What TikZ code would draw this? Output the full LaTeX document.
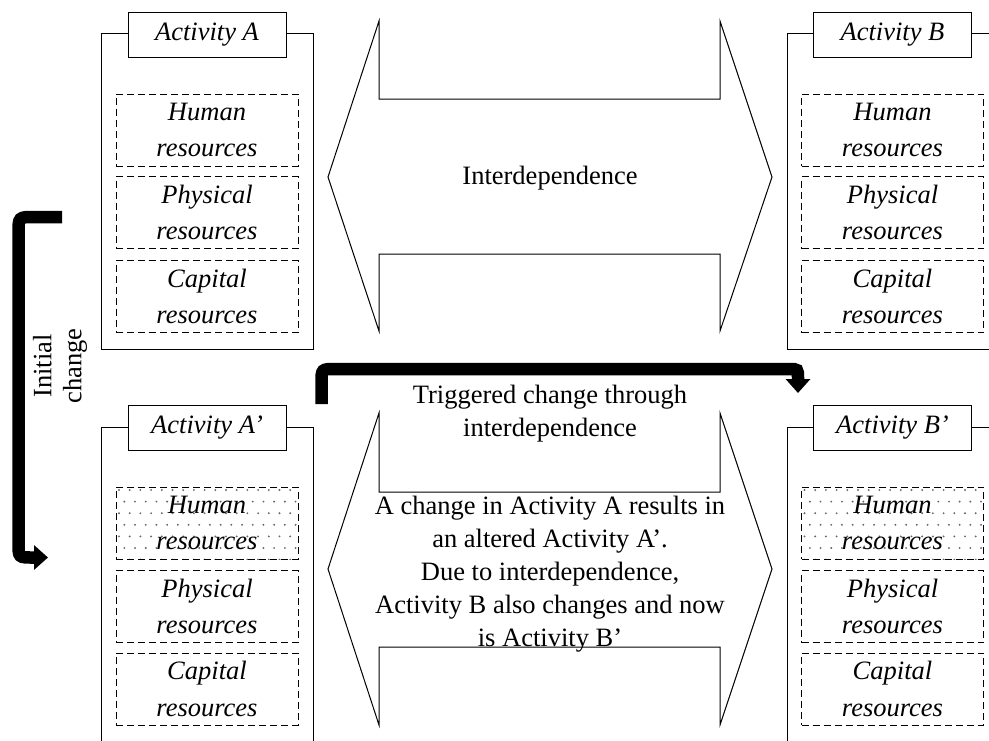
\documentclass[tikz,border=0pt]{standalone}
\usepackage{fontspec}
\setmainfont{Liberation Serif}
\usetikzlibrary{arrows.meta}
\begin{document}
\begin{tikzpicture}[x=1pt,y=-1pt,
  every node/.style={inner sep=0pt, outer sep=0pt},
  plain/.style={font=\fontsize{26.5}{33}\selectfont, align=center},
  container/.style={draw, line width=1pt, minimum width=212pt, minimum height=316pt, anchor=north west},
  actlabel/.style={draw, fill=white, line width=1pt, minimum width=158pt, minimum height=45pt,
    font=\itshape\fontsize{26.5}{33}\selectfont},
  resbox/.style={draw, dash pattern=on 7pt off 4pt, line width=0.9pt, minimum width=182pt,
    minimum height=72pt, align=center, font=\itshape\fontsize{26.5}{36.5}\selectfont},
  dotted fill/.style={path picture={
    \foreach \j in {0,...,6}{
      \foreach \i in {0,...,17}{
        \pgfmathsetmacro\dx{\i*10.7+mod(\j,2)*5.35+3}
        \pgfmathsetmacro\dy{\j*11.6+3}
        \fill[black!60] ([shift={(\dx,\dy)}]path picture bounding box.north west) circle[radius=1.05];
      }
    }}},
  bigarrow/.style={draw, line width=1pt, fill=white, line join=miter},
  thick connector/.style={line width=12.5pt, -{Triangle[width=24pt,length=14pt]}}
]
\useasboundingbox (0,0) rectangle (989,740);
\clip (0,0) rectangle (989,740);

% ---- Activity containers ----
\node[container] (actA)  at (101,33)  {};
\node[container] (actB)  at (787,33)  {};
\node[container] (actA2) at (101,427) {};
\node[container] (actB2) at (787,427) {};

\node[actlabel] (labA)  at (207,34.5)   {Activity A};
\node[actlabel] (labB)  at (892.5,34.5) {Activity B};
\node[actlabel] (labA2) at (207,428)    {Activity A’};
\node[actlabel] (labB2) at (892.5,428)  {Activity B’};

% ---- resources inside each activity ----
\node[resbox] (hA) at (207,130)   {Human\\resources};
\node[resbox] (pA) at (207,212.5) {Physical\\resources};
\node[resbox] (cA) at (207,296.5) {Capital\\resources};

\node[resbox] (hB) at (892.5,130)   {Human\\resources};
\node[resbox] (pB) at (892.5,212.5) {Physical\\resources};
\node[resbox] (cB) at (892.5,296.5) {Capital\\resources};

\node[resbox, dotted fill] (hA2) at (207,523)   {Human\\resources};
\node[resbox] (pA2) at (207,606.5) {Physical\\resources};
\node[resbox] (cA2) at (207,689)   {Capital\\resources};

\node[resbox, dotted fill] (hB2) at (892.5,523)   {Human\\resources};
\node[resbox] (pB2) at (892.5,606.5) {Physical\\resources};
\node[resbox] (cB2) at (892.5,689)   {Capital\\resources};

% ---- double arrows between the activities ----
\draw[bigarrow] (328,177) -- (379,21) -- (379,99) -- (720,99) -- (720,21) -- (772,177)
  -- (720,331) -- (720,254) -- (379,254) -- (379,331) -- cycle;
\node[plain] (inter) at (550,178) {Interdependence};

\draw[bigarrow] (328,569) -- (379,413) -- (379,492) -- (720,492) -- (720,413) -- (772,569)
  -- (720,725) -- (720,647) -- (379,647) -- (379,725) -- cycle;
\node[plain] (trig) at (550,414) {Triggered change through\\interdependence};
\node[plain] (expl) at (550,574) {A change in Activity A results in\\an altered Activity A’.\\Due to interdependence,\\Activity B also changes and now\\is Activity B’};

% ---- change arrows ----
\coordinate (initS) at (62,217);
\coordinate (initE) at (48,557.5);
\draw[thick connector] (initS) -- (34.5,217) .. controls (18.5,217) .. (18.5,233)
  -- (18.5,543) .. controls (18.5,557.5) .. (33,557.5) -- (initE);
\node[plain, rotate=90, font=\fontsize{26.5}{30}\selectfont] (initlab) at (60,366) {Initial\\change};

\coordinate (trigS) at (321.5,404);
\coordinate (trigE) at (798,393);
\draw[thick connector] (trigS) -- (321.5,383) .. controls (321.5,369) .. (335.5,369)
  -- (789,369) .. controls (798,369) .. (798,378) -- (trigE);
\end{tikzpicture}
\end{document}
